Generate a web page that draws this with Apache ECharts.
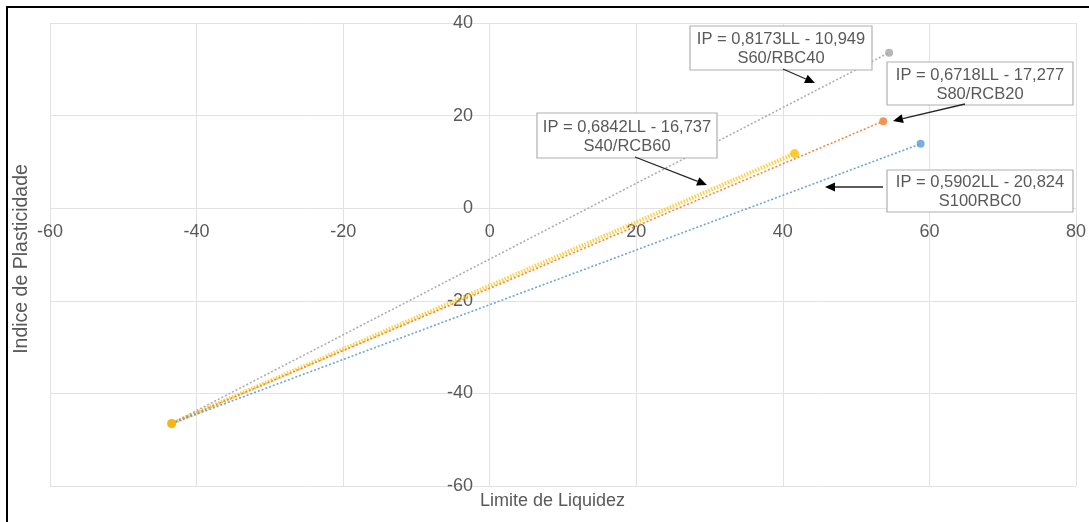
<!DOCTYPE html>
<html><head><meta charset="utf-8">
<script src="https://cdn.jsdelivr.net/npm/echarts@6/dist/echarts.min.js"></script>
<style>html,body{margin:0;padding:0;background:#fff}#c{width:1089px;height:522px}</style>
</head><body><div id="c"></div>
<script>
// ---- data ----
const seriesNames = ['S40/RCB60', 'S80/RCB20', 'S60/RBC40', 'S100RBC0'];
const limiteLiquidez = [[-43.4, 41.6], [-43.4, 53.7], [-43.4, 54.5], [-43.4, 58.8]];
const indicePlasticidade = [[-46.5, 11.8], [-46.5, 18.8], [-46.5, 33.6], [-46.5, 13.9]];
const equations = ['IP = 0,6842LL - 16,737', 'IP = 0,6718LL - 17,277', 'IP = 0,8173LL - 10,949', 'IP = 0,5902LL - 20,824'];
const xAxisTitle = 'Limite de Liquidez';
const yAxisTitle = 'Indice de Plasticidade';
const xRange = [-60, 80];
const yRange = [-60, 40];
const tickStep = 20;

// ---- styles ----
const colors = ['#ffc000', '#ed7d31', '#a5a5a5', '#5b9bd5'];
const lineWidths = [4, 1.6, 1.6, 1.6];
const dashes = [[1.5, 1.5], [2, 2], [2, 2], [2, 2]];
const FONT = "'Liberation Sans', Arial, sans-serif";
const TXT = '#595959';

const pts = i => limiteLiquidez[i].map((x, k) => [x, indicePlasticidade[i][k]]);

const series = [];
seriesNames.forEach((n, i) => {
  series.push({
    name: n + ' trend', type: 'line', data: pts(i), symbol: 'none', z: 2 + i,
    lineStyle: { color: colors[i], width: lineWidths[i], type: dashes[i], opacity: i === 0 ? 0.75 : 0.9 },
    silent: true
  });
});
[3, 2, 1, 0].forEach((i, k) => {
  series.push({
    name: seriesNames[i], type: 'scatter', data: pts(i), symbolSize: i === 0 ? 9 : 8, z: 10 + k,
    itemStyle: { color: colors[i] }
  });
});

// ---- layout ----
const W = 1089, H = 522;
const G = { left: 50, right: 10, top: 23, bottom: 36 };
const gw = W - G.left - G.right, gh = H - G.top - G.bottom;
// axes placed through the origin
const xAxisOffset = -(gh * (0 - yRange[0]) / (yRange[1] - yRange[0]));
const yAxisOffset = -(gw * (0 - xRange[0]) / (xRange[1] - xRange[0]));

// ---- annotations (pixel layout) ----
const boxes = [
  { r: [537, 113, 180, 45], a: [635, 157, 707, 185] },
  { r: [887, 62, 186, 43], a: [965, 104, 893, 121] },
  { r: [690, 26, 182, 44], a: [783, 69, 815, 83] },
  { r: [887, 170, 186, 42], a: [883, 187, 825, 187] }
];
const graphics = [];
boxes.forEach((b, i) => {
  const [x, y, w, h] = b.r;
  graphics.push({ type: 'rect', shape: { x, y, width: w, height: h }, style: { fill: '#fff', stroke: '#b0b0b0', lineWidth: 1.2 }, z: 50 });
  graphics.push({ type: 'text', x: x + w / 2, y: y + h / 2 + 1, z: 51,
    style: { text: equations[i] + '\n' + seriesNames[i], align: 'center', verticalAlign: 'middle', fontSize: 16.5, lineHeight: 19, fill: TXT, fontFamily: FONT } });
  const [x1, y1, x2, y2] = b.a;
  const dx = x2 - x1, dy = y2 - y1, L = Math.hypot(dx, dy), ux = dx / L, uy = dy / L;
  const hl = 10, hw = 4.5;
  const bx = x2 - ux * hl, by = y2 - uy * hl;
  graphics.push({ type: 'line', shape: { x1, y1, x2: bx, y2: by }, style: { stroke: '#262626', lineWidth: 1.3 }, z: 52 });
  graphics.push({ type: 'polygon', shape: { points: [[x2, y2], [bx - uy * hw, by + ux * hw], [bx + uy * hw, by - ux * hw]] }, style: { fill: '#000' }, z: 52 });
});
graphics.push({ type: 'text', x: 480, y: 501, style: { text: xAxisTitle, fontSize: 18, fill: TXT, fontFamily: FONT, verticalAlign: 'middle' } });
graphics.push({ type: 'text', x: 22, y: 259, rotation: Math.PI / 2, style: { text: yAxisTitle, fontSize: 19.5, fill: TXT, fontFamily: FONT, align: 'center', verticalAlign: 'middle' } });
graphics.push({ type: 'rect', shape: { x: 7, y: 7, width: 1200, height: 700 }, style: { fill: 'none', stroke: '#000', lineWidth: 2 }, z: 100 });

const chart = echarts.init(document.getElementById('c'), null, { renderer: 'canvas' });
chart.setOption({
  animation: false,
  backgroundColor: '#fff',
  grid: { left: G.left, right: G.right, top: G.top, bottom: G.bottom, containLabel: false },
  xAxis: {
    type: 'value', min: xRange[0], max: xRange[1], interval: tickStep,
    position: 'bottom', offset: xAxisOffset,
    axisLine: { show: false, onZero: false },
    axisTick: { show: false },
    axisLabel: { fontSize: 18, color: TXT, fontFamily: FONT, margin: 15 },
    splitLine: { show: true, lineStyle: { color: '#e2e2e2' } }
  },
  yAxis: {
    type: 'value', min: yRange[0], max: yRange[1], interval: tickStep,
    position: 'left', offset: yAxisOffset,
    axisLine: { show: false, onZero: false },
    axisTick: { show: false },
    axisLabel: { fontSize: 18, color: TXT, fontFamily: FONT, margin: 18 },
    splitLine: { show: true, lineStyle: { color: '#e2e2e2' } }
  },
  series,
  graphic: graphics
});
</script></body></html>
